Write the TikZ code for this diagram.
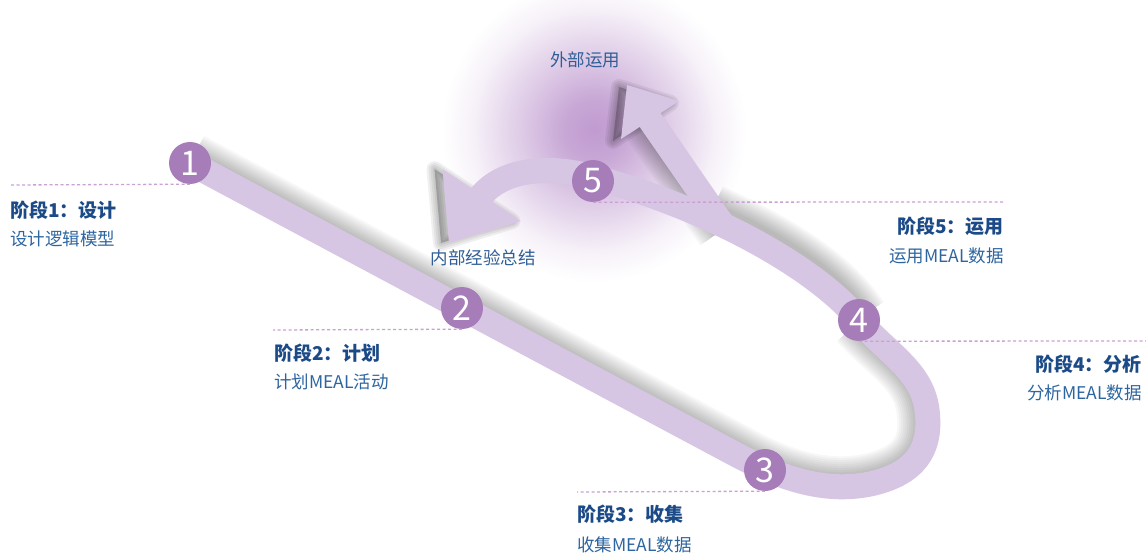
\documentclass[tikz,border=0pt]{standalone}
\usepackage{fontspec}
\setmainfont{Noto Sans CJK SC}
\definecolor{bandc}{HTML}{D6C6E3}
\definecolor{dotc}{HTML}{A77DB9}
\definecolor{ttlc}{HTML}{1B4A86}
\definecolor{subc}{HTML}{2D65A0}
\definecolor{lblc}{HTML}{2F5E96}
\definecolor{dashc}{HTML}{C9A2D3}
\definecolor{glowc}{HTML}{C09BD0}
\pgfdeclareradialshading{glowshade}{\pgfpoint{0bp}{0bp}}{color(0bp)=(glowc); color(5bp)=(glowc!88!white); color(10bp)=(glowc!62!white); color(15bp)=(glowc!38!white); color(20bp)=(glowc!14!white); color(25bp)=(white); color(50bp)=(white)}
\newcommand\mysoftshade[1]{\foreach \w in {43,39,35,31,27,23,19,15,11,7}{\draw[black,opacity=0.033,line width=\w pt] #1;}}
\newcommand\mytrishade[1]{\foreach \w in {16,12,8,4}{\filldraw[black,opacity=0.06,line width=\w pt,line join=round] #1;}}
\tikzset{
  bandline/.style={draw=bandc,line width=25pt,line cap=butt,line join=round},
  headfill/.style={fill=bandc},
  num/.style={circle,fill=dotc,minimum size=42pt,inner sep=0pt,text=white,font=\fontsize{34}{34}\selectfont},
  ttl/.style={inner sep=0pt,text=ttlc,font=\bfseries\fontsize{19}{20}\selectfont},
  sub/.style={inner sep=0pt,text=subc,font=\fontsize{17.5}{20}\selectfont},
  lbl/.style={inner sep=0pt,text=lblc,font=\fontsize{17.5}{20}\selectfont},
  dashline/.style={draw=dashc,line width=1.3pt,dash pattern=on 3pt off 2.5pt}
}
\begin{document}
\begin{tikzpicture}[x=1pt,y=-1pt]
\useasboundingbox (0,0) rectangle (1146,556);
% glow
\shade[shading=glowshade] (594,130) circle (152);
% coordinates
\coordinate (p1) at (190,163);
\coordinate (p2) at (462,308);
\coordinate (p3) at (765,470);
\coordinate (p4) at (859,320);
\coordinate (p5) at (593,177);
\coordinate (la) at (478,200);
\coordinate (ua0) at (725,228);
\coordinate (ua) at (648,117);
% shadows
\mysoftshade{(194,155) -- (739,446) .. controls (788,474) and (830,483) .. (868,475) .. controls (908,466) and (923,447) .. (918,411) .. controls (913,373) and (880,358) .. (853,327)}
\mysoftshade{(866,314) .. controls (840,275) and (790,240) .. (714,206)}
\mysoftshade{(718,233) -- (643,125)}
\mytrishade{(619,87) -- (671,103) -- (613,141) -- cycle}
\mytrishade{(441,243) -- (512.5,221) -- (434.5,169) -- cycle}
% band
\draw[bandline] (p1) -- (735,454) .. controls (790,483) and (830,492) .. (870,484) .. controls (915,474) and (932,450) .. (927,410) .. controls (922,370) and (885,352) .. (p4) .. controls (824,277) and (730,215) .. (p5) .. controls (549.6,165) and (500,168) .. (la);
\draw[bandline] (ua0) -- (ua);
\fill[headfill] (627,85) -- (679,101) -- (621,139) -- cycle;
\fill[headfill] (449,243) -- (520.5,221) -- (442.5,169) -- cycle;
% circles
\node[num] (c1) at (p1) {1};
\node[num] (c2) at (p2) {2};
\node[num] (c3) at (p3) {3};
\node[num] (c4) at (p4) {4};
\node[num] (c5) at (593,181) {5};
% dashed leaders
\coordinate (d1) at (10,185);
\coordinate (d2) at (273,330);
\coordinate (d3) at (577,492);
\coordinate (d4) at (1146,341);
\coordinate (d5) at (1005,202);
\draw[dashline] (c1.south) -- (d1);
\draw[dashline] (c2.south) -- (d2);
\draw[dashline] (c3.south) -- (d3);
\draw[dashline] (c4.south) -- (d4);
\draw[dashline] (c5.south) -- (d5);
% texts
\node[ttl,anchor=west] (t1) at (10,210) {阶段1：设计};
\node[sub,anchor=west] (s1) at (10,239) {设计逻辑模型};
\node[ttl,anchor=west] (t2) at (274,353) {阶段2：计划};
\node[sub,anchor=west] (s2) at (274,382) {计划MEAL活动};
\node[ttl,anchor=west] (t3) at (577,514) {阶段3：收集};
\node[sub,anchor=west] (s3) at (577,545) {收集MEAL数据};
\node[ttl,anchor=east] (t5) at (1004,226) {阶段5：运用};
\node[sub,anchor=east] (s5) at (1004,256) {运用MEAL数据};
\node[ttl,anchor=east] (t4) at (1142,364) {阶段4：分析};
\node[sub,anchor=east] (s4) at (1142,393) {分析MEAL数据};
\node[lbl] (ext) at (585,60) {外部运用};
\node[lbl] (int) at (483,258) {内部经验总结};
\end{tikzpicture}
\end{document}
